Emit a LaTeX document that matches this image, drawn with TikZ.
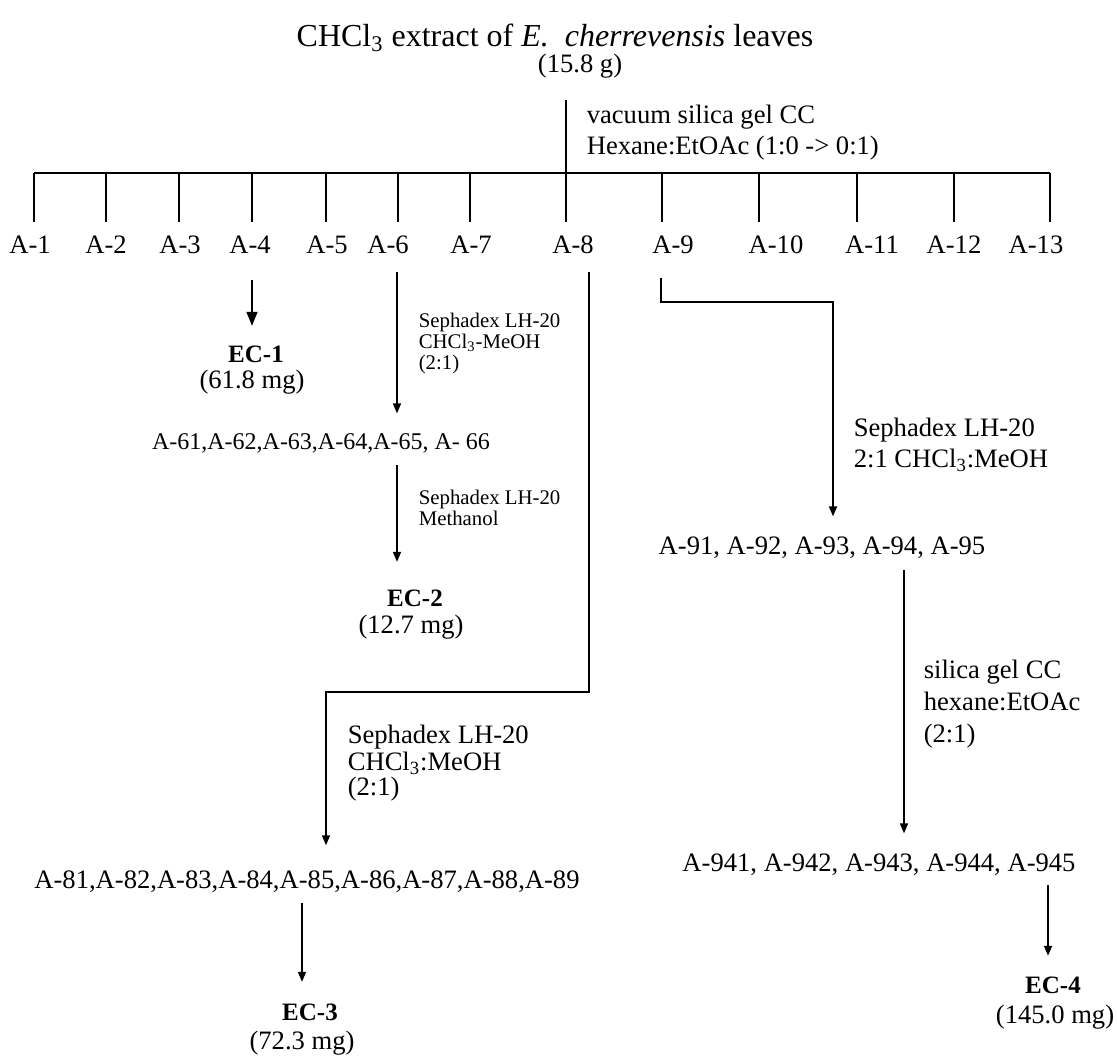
\documentclass[tikz,border=0pt]{standalone}
\usepackage{fontspec}
\setmainfont{Liberation Serif}
\usetikzlibrary{arrows.meta}

\begin{document}
\begin{tikzpicture}[x=0.5pt,y=-0.5pt,line width=0.8pt,
  txt/.style={inner sep=0pt,font=\fontsize{13.3}{15.5}\selectfont},
  ttl/.style={inner sep=0pt,font=\fontsize{16}{19}\selectfont},
  cond/.style={inner sep=0pt,anchor=base west,align=left,font=\fontsize{13.3}{15.5}\selectfont},
  small/.style={inner sep=0pt,anchor=base west,align=left,font=\fontsize{10.4}{10.3}\selectfont},
  cmpd/.style={inner sep=0pt,font=\fontsize{12.5}{14}\selectfont\bfseries},
  arr/.style={-{Triangle[width=4pt,length=5pt]}}]
\useasboundingbox (0,0) rectangle (1117,1056);

% crude extract
\node[ttl] (ext) at (555,38) {CHCl\textsubscript{3} extract of \textit{E.}\ \ \textit{cherrevensis} leaves};
\node[txt] (wt) at (580,66) {(15.8 g)};
\coordinate (split) at (566,100);
% base = baseline of the last line
\node[cond] (vlc) at (586,154) {vacuum silica gel CC\\Hexane:EtOAc (1:0 -> 0:1)};

% fractions A-1 ... A-13
\foreach \i/\tx/\lx in {1/34/30, 2/106/106, 3/179/180, 4/252/250, 5/326/327,
  6/398/388, 7/470/471, 8/566/573, 9/662/673, 10/759/776, 11/857/872,
  12/954/954, 13/1050/1036}
{
\coordinate (t\i) at (\tx,173);
\draw (t\i) -- ++(0,49);
\node[txt] (A\i) at (\lx,245) {A-\i};
}
\draw (t1) -- (t13);
\draw (split) -- (t8);

% A-4
\coordinate (s4) at (252,280);
\node[cmpd] (EC1) at (256,354) {EC-1};
\node[txt] (m1) at (252,382) {(61.8 mg)};
\draw[-{Triangle[width=5.5pt,length=7pt]}, shorten >=9.5pt] (s4) -- (s4 |- EC1.north);

% A-6
\coordinate (s6) at (397,272);
\node[small] (c6) at (418,369) {Sephadex LH-20\\CHCl\textsubscript{3}-MeOH\\(2:1)};
\node[txt, font=\fontsize{12}{14}\selectfont] (f6) at (321,443) {A-61,A-62,A-63,A-64,A-65, A- 66};
\draw[arr, shorten >=9.5pt] (s6) -- (s6 |- f6.north);
\coordinate (s62) at (397,465);
\node[small] (c62) at (418,525) {Sephadex LH-20\\Methanol};
\node[cmpd] (EC2) at (415,598) {EC-2};
\node[txt] (m2) at (411,627) {(12.7 mg)};
\draw[arr, shorten >=13.5pt] (s62) -- (s62 |- EC2.north);

% A-8
\coordinate (s8) at (589,272);
\coordinate (k8) at (326,692);
\node[cond, font=\fontsize{13.3}{10.9}\selectfont] (c8) at (347,795) {Sephadex LH-20\\CHCl\textsubscript{3}:MeOH\\(2:1)};
\node[txt] (f8) at (307,882) {A-81,A-82,A-83,A-84,A-85,A-86,A-87,A-88,A-89};
\draw[arr, shorten >=12.5pt] (s8) |- (k8) -- (k8 |- f8.north);
\coordinate (s83) at (302,903);
\node[cmpd] (EC3) at (310,1012) {EC-3};
\node[txt] (m3) at (302,1043) {(72.3 mg)};
\draw[arr, shorten >=10.5pt] (s83) -- (s83 |- EC3.north);

% A-9
\coordinate (s9) at (661,278);
\coordinate (k9) at (833,302);
\node[cond] (c9) at (853,467) {Sephadex LH-20\\2:1 CHCl\textsubscript{3}:MeOH};
\node[txt] (f9) at (822,548) {A-91, A-92, A-93, A-94, A-95};
\draw[arr, shorten >=10pt] (s9) |- (k9) -- (k9 |- f9.north);
\coordinate (s94) at (904,570);
\node[cond, font=\fontsize{13.3}{15.8}\selectfont] (c94) at (923,742) {silica gel CC\\hexane:EtOAc\\(2:1)};
\node[txt] (f94) at (879,865) {A-941, A-942, A-943, A-944, A-945};
\draw[arr, shorten >=10pt] (s94) -- (s94 |- f94.north);
\coordinate (s945) at (1048,885);
\node[cmpd] (EC4) at (1053,985) {EC-4};
\node[txt] (m4) at (1055,1017) {(145.0 mg)};
\draw[arr, shorten >=10pt] (s945) -- (s945 |- EC4.north);
\end{tikzpicture}
\end{document}
